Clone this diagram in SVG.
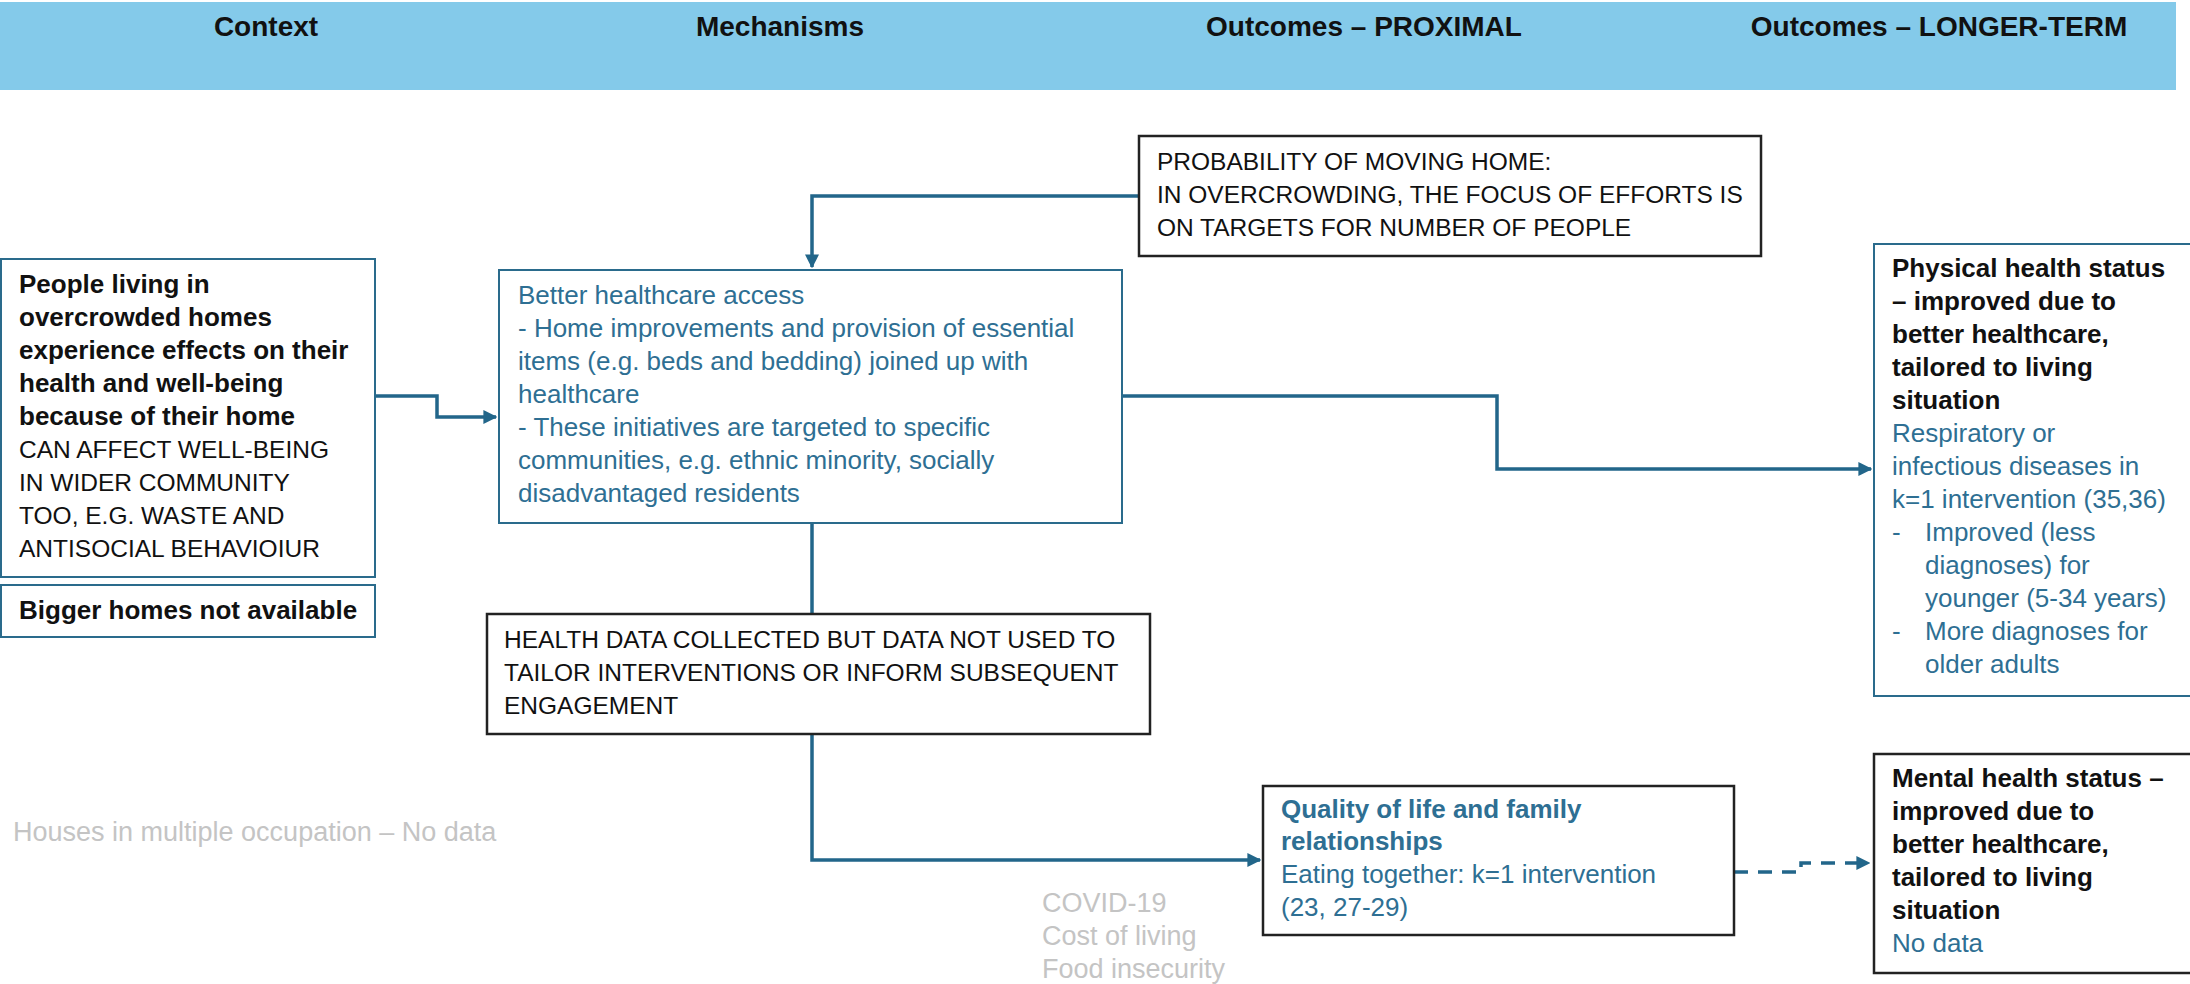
<svg xmlns="http://www.w3.org/2000/svg" width="2190" height="984" viewBox="0 0 2190 984">
<style>
text{font-family:"Liberation Sans",Arial,sans-serif;font-size:26px;}
.hd{font-weight:bold;font-size:28px;fill:#111;text-anchor:middle;}
.b{font-weight:bold;fill:#111;}
.k{fill:#111;font-size:24.5px;}
.t{fill:#2E6F93;}
.tb{fill:#2E6F93;font-weight:bold;}
.g{fill:#C4C4C4;font-size:27px;}
.bt{fill:#fff;stroke:#2A6B8C;stroke-width:2;}
.bk{fill:#fff;stroke:#222;stroke-width:2.5;}
.c{fill:none;stroke:#22668A;stroke-width:3.5;}
.d{fill:none;stroke:#22668A;stroke-width:3.5;stroke-dasharray:14 10;}
</style>
<defs>
<marker id="ah" viewBox="0 0 10 10" refX="9" refY="5" markerWidth="4" markerHeight="4" orient="auto" markerUnits="strokeWidth">
<path d="M0,0 L10,5 L0,10 Z" fill="#22668A"/>
</marker>
</defs>
<rect x="0" y="2" width="2176" height="88" fill="#84CAEA"/>
<g id="header">
<text class="hd" x="266" y="36">Context</text>
<text class="hd" x="780" y="36">Mechanisms</text>
<text class="hd" x="1364" y="36">Outcomes – PROXIMAL</text>
<text class="hd" x="1939" y="36">Outcomes – LONGER-TERM</text>
</g>
<g id="connectors">
<path class="c" d="M375,396 H437 V417 H496" marker-end="url(#ah)"/>
<path class="c" d="M1139,196 H812 V267" marker-end="url(#ah)"/>
<path class="c" d="M1122,396 H1497 V469 H1871" marker-end="url(#ah)"/>
<path class="c" d="M812,523 V614"/>
<path class="c" d="M812,734 V860 H1260" marker-end="url(#ah)"/>
<path class="d" d="M1734,872 H1801 V863 H1869" marker-end="url(#ah)"/>
</g>
<g id="context-main">
<rect class="bt" x="1" y="259" width="374" height="318"/>
<text class="b" x="19" y="293">People living in</text>
<text class="b" x="19" y="326">overcrowded homes</text>
<text class="b" x="19" y="359">experience effects on their</text>
<text class="b" x="19" y="392">health and well-being</text>
<text class="b" x="19" y="425">because of their home</text>
<text class="k" x="19" y="458">CAN AFFECT WELL-BEING</text>
<text class="k" x="19" y="491">IN WIDER COMMUNITY</text>
<text class="k" x="19" y="524">TOO, E.G. WASTE AND</text>
<text class="k" x="19" y="557">ANTISOCIAL BEHAVIOIUR</text>
</g>
<g id="context-bigger">
<rect class="bt" x="1" y="585" width="374" height="52"/>
<text class="b" x="19" y="619">Bigger homes not available</text>
</g>
<g id="context-hmo">
<text class="g" x="13" y="841">Houses in multiple occupation – No data</text>
</g>
<g id="mechanism">
<rect class="bt" x="499" y="270" width="623" height="253"/>
<text class="t" x="518" y="304">Better healthcare access</text>
<text class="t" x="518" y="337">- Home improvements and provision of essential</text>
<text class="t" x="518" y="370">items (e.g. beds and bedding) joined up with</text>
<text class="t" x="518" y="403">healthcare</text>
<text class="t" x="518" y="436">- These initiatives are targeted to specific</text>
<text class="t" x="518" y="469">communities, e.g. ethnic minority, socially</text>
<text class="t" x="518" y="502">disadvantaged residents</text>
</g>
<g id="probability">
<rect class="bk" x="1139" y="136" width="622" height="120"/>
<text class="k" x="1157" y="170">PROBABILITY OF MOVING HOME:</text>
<text class="k" x="1157" y="203">IN OVERCROWDING, THE FOCUS OF EFFORTS IS</text>
<text class="k" x="1157" y="236">ON TARGETS FOR NUMBER OF PEOPLE</text>
</g>
<g id="health-data">
<rect class="bk" x="487" y="614" width="663" height="120"/>
<text class="k" x="504" y="648">HEALTH DATA COLLECTED BUT DATA NOT USED TO</text>
<text class="k" x="504" y="681">TAILOR INTERVENTIONS OR INFORM SUBSEQUENT</text>
<text class="k" x="504" y="714">ENGAGEMENT</text>
</g>
<g id="physical">
<rect class="bt" x="1874" y="244" width="330" height="452"/>
<text class="b" x="1892" y="277">Physical health status</text>
<text class="b" x="1892" y="310">– improved due to</text>
<text class="b" x="1892" y="343">better healthcare,</text>
<text class="b" x="1892" y="376">tailored to living</text>
<text class="b" x="1892" y="409">situation</text>
<text class="t" x="1892" y="442">Respiratory or</text>
<text class="t" x="1892" y="475">infectious diseases in</text>
<text class="t" x="1892" y="508">k=1 intervention (35,36)</text>
<text class="t" x="1892" y="541">-</text>
<text class="t" x="1925" y="541">Improved (less</text>
<text class="t" x="1925" y="574">diagnoses) for</text>
<text class="t" x="1925" y="607">younger (5-34 years)</text>
<text class="t" x="1892" y="640">-</text>
<text class="t" x="1925" y="640">More diagnoses for</text>
<text class="t" x="1925" y="673">older adults</text>
</g>
<g id="quality">
<rect class="bk" x="1263" y="786" width="471" height="149"/>
<text class="tb" x="1281" y="818">Quality of life and family</text>
<text class="tb" x="1281" y="850">relationships</text>
<text class="t" x="1281" y="883">Eating together: k=1 intervention</text>
<text class="t" x="1281" y="916">(23, 27-29)</text>
</g>
<g id="covid">
<text class="g" x="1042" y="912">COVID-19</text>
<text class="g" x="1042" y="945">Cost of living</text>
<text class="g" x="1042" y="978">Food insecurity</text>
</g>
<g id="mental">
<rect class="bk" x="1874" y="754" width="330" height="219"/>
<text class="b" x="1892" y="787">Mental health status –</text>
<text class="b" x="1892" y="820">improved due to</text>
<text class="b" x="1892" y="853">better healthcare,</text>
<text class="b" x="1892" y="886">tailored to living</text>
<text class="b" x="1892" y="919">situation</text>
<text class="t" x="1892" y="952">No data</text>
</g>
</svg>
